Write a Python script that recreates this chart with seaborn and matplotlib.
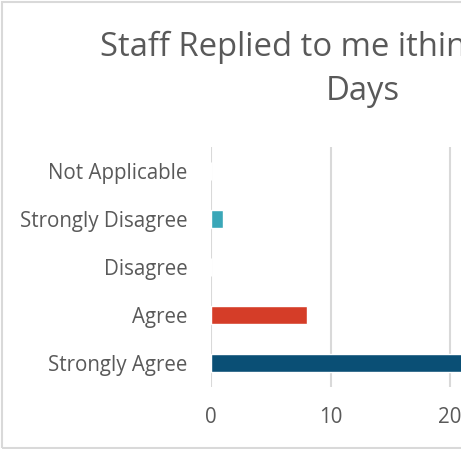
import matplotlib
matplotlib.use("Agg")
import matplotlib.pyplot as plt
import seaborn as sns
import pandas as pd
from matplotlib.patches import Rectangle

# data (right side of the chart is cut off)
categories = [
    "Not Applicable",
    "Strongly Disagree",
    "Disagree",
    "Agree",
    "Strongly Agree",
]
counts = [0, 1, 0, 8, 23]
bar_colors = ["#3AA7B8", "#3AA7B8", "#3AA7B8", "#D53D28", "#0A4F75"]
x_ticks = [0, 10, 20, 30]

title_line1 = "Staff Replied to me ithin"
title_line2 = "Days"

df = pd.DataFrame({"category": categories, "count": counts})

sns.set_style("white")
plt.rcParams["font.family"] = ["Open Sans", "DejaVu Sans"]

text_color = "#595959"
grid_color = "#D9D9D9"

W, H = 461, 449
fig = plt.figure(figsize=(W / 100, H / 100), dpi=100)

# plot area runs past the right edge of the picture, as in the reference
px_per_unit = 11.95
ax = fig.add_axes([
    211 / W,
    (H - 387) / H,
    (x_ticks[-1] * px_per_unit) / W,
    240 / H,
])

sns.barplot(
    data=df,
    y="category",
    x="count",
    hue="category",
    order=categories,
    palette=dict(zip(categories, bar_colors)),
    orient="h",
    width=0.37,
    legend=False,
    saturation=1,
    ax=ax
)

ax.set_xlim(0, x_ticks[-1])
ax.set_xticks(x_ticks)
ax.set_xlabel("")
ax.set_ylabel("")
ax.grid(axis="x", color=grid_color, linewidth=1.5)
ax.set_axisbelow(True)
for side in ["top", "right", "bottom", "left"]:
    ax.spines[side].set_visible(False)

ax.tick_params(axis="y", length=0, pad=17, labelsize=14.8, labelcolor=text_color)
ax.tick_params(axis="x", length=0, pad=14.5, labelsize=14.8, labelcolor=text_color)

fig.text(
    100 / W, (H - 56) / H, title_line1,
    ha="left", va="baseline", fontsize=23.6, color=text_color
)
fig.text(
    363 / W, (H - 100) / H, title_line2,
    ha="center", va="baseline", fontsize=23.6, color=text_color
)

# chart border (its right side is outside the picture)
fig.patches.append(Rectangle(
    (1.5 / W, 1.5 / H), 1.2, 1 - 3 / H,
    transform=fig.transFigure, fill=False,
    edgecolor=grid_color, linewidth=1.5
))

fig.savefig("out.png", dpi=100)
